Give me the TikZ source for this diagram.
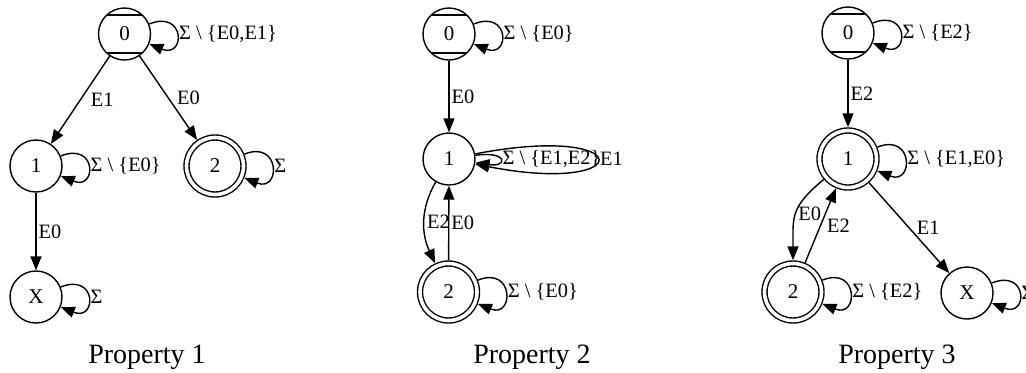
\documentclass[tikz,border=0pt]{standalone}
\usepackage{fontspec}
\setmainfont{Liberation Serif}
\usetikzlibrary{arrows.meta}
\newcommand{\allbut}[1]{Σ \textbackslash\ \{#1\}}

\begin{document}
\begin{tikzpicture}[
        x=0.5pt, y=0.5pt,
        line width=0.7pt,
        st/.style={draw, circle, minimum size=26pt, inner sep=0pt, font=\fontsize{10.5}{12}\selectfont},
        acc/.style={st, double, double distance=1.8pt, minimum size=28.5pt, outer sep=1.6pt},
        init/.style={st, path picture={
            \draw ([yshift=9.5pt]path picture bounding box.west) -- ([yshift=9.5pt]path picture bounding box.east)
                  ([yshift=-9.5pt]path picture bounding box.west) -- ([yshift=-9.5pt]path picture bounding box.east);}},
        ar/.style={-{Triangle[length=7pt, width=5.5pt]}},
        lp/.style={out=22, in=-22, distance=19.6pt},
        lbl/.style={font=\fontsize{10.2}{12}\selectfont, inner sep=1pt},
        caption/.style={font=\fontsize{14}{17}\selectfont, anchor=base},
    ]
    \useasboundingbox (0,0) rectangle (1026,-372);

    % property 1
    \node[init](p1n0) at (124.5,-34) {0};
    \node[st](p1n1) at (36,-166) {1};
    \node[acc](p1n2) at (215,-166) {2};
    \node[st](p1nX) at (36,-297) {X};
    \node[caption](cap1) at (147,-363) {Property 1};

    \path[ar]
    (p1n0) edge node[lbl, right=4pt] {E1} (p1n1)
           edge node[lbl, right=3pt] {E0} (p1n2)
    (p1n1) edge node[lbl, right] {E0} (p1nX)

    (p1n0) edge[lp] node[lbl, right] {\allbut{E0,E1}} (p1n0)
    (p1n1) edge[lp] node[lbl, right] {\allbut{E0}} (p1n1)
    (p1n2) edge[lp] node[lbl, right] {Σ} (p1n2)
    (p1nX) edge[lp] node[lbl, right] {Σ} (p1nX)
    ;

    % property 2
    \node[init](p2n0) at (449,-34) {0};
    \node[st](p2n1) at (449,-159) {1};
    \node[acc](p2n2) at (448.5,-292) {2};
    \node[caption](cap2) at (532,-363) {Property 2};

    \path[ar]
    (p2n0) edge node[lbl, right] {E0} (p2n1)
    (p2n1) edge[out=-120, in=115] node[lbl, right] {E2} (p2n2)
    (p2n2) edge node[lbl, right] {E0} (p2n1)

    (p2n0) edge[lp] node[lbl, right] {\allbut{E0}} (p2n0)
    (p2n1) edge[out=8, in=-8, distance=16.5pt] node[lbl, right] {\allbut{E1,E2}} (p2n1)
    (p2n1) edge[out=11, in=-11, distance=83pt] node[lbl, right] {E1} (p2n1)
    (p2n2) edge[lp] node[lbl, right] {\allbut{E0}} (p2n2)
    ;

    % property 3
    \node[init](p3n0) at (848,-33) {0};
    \node[acc](p3n1) at (848,-159) {1};
    \node[acc](p3n2) at (793,-292) {2};
    \node[st](p3nX) at (967,-293) {X};
    \node[caption](cap3) at (897,-363) {Property 3};

    \path[ar]
    (p3n0) edge node[lbl, right] {E2} (p3n1)
    (p3n1) edge[out=-140, in=90, looseness=1.3] node[lbl, right] {E0} (p3n2)
    (p3n2) edge node[lbl, right=2pt] {E2} (p3n1)
    (p3n1) edge node[lbl, right=2.5pt] {E1} (p3nX)

    (p3n0) edge[lp] node[lbl, right] {\allbut{E2}} (p3n0)
    (p3n1) edge[lp] node[lbl, right] {\allbut{E1,E0}} (p3n1)
    (p3n2) edge[lp] node[lbl, right] {\allbut{E2}} (p3n2)
    (p3nX) edge[lp] node[lbl, right] {Σ} (p3nX)
    ;
\end{tikzpicture}
\end{document}
